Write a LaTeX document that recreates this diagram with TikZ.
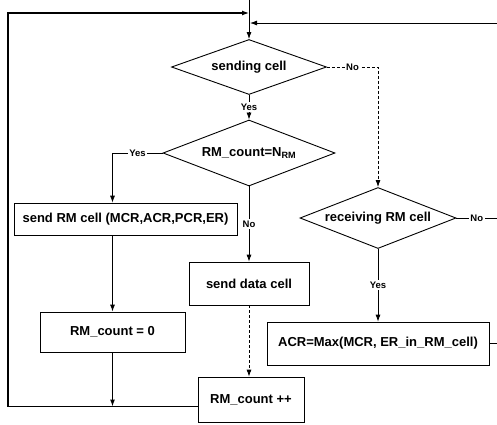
\documentclass[tikz,border=0pt]{standalone}
\usepackage{fontspec}
\setmainfont{Liberation Sans}
\usepackage{tikz}
\usetikzlibrary{arrows.meta,positioning,shapes.geometric}
\tikzstyle{decision} = [diamond, draw, line width=0.9pt, inner sep=0pt, font=\fontsize{13}{15}\selectfont\bfseries]
\tikzstyle{process} = [rectangle, draw, line width=0.7pt, inner sep=0pt, font=\fontsize{13}{15}\selectfont\bfseries]
\tikzstyle{arrow} = [line width=0.8pt,-{Latex[length=7pt,width=5pt]}]
\tikzstyle{lbl} = [fill=white, inner sep=1.5pt, font=\fontsize{9.5}{11}\selectfont\bfseries]

\begin{document}
\begin{tikzpicture}[x=1pt,y=-1pt]
    \useasboundingbox (0,0) rectangle (497,424);
    \node[decision, aspect=2.8, minimum width=155pt, minimum height=55pt] (send) at (249,67) {sending cell};
    \node[decision, aspect=2.6, minimum width=172pt, minimum height=66pt] (count) at (249,153) {RM\_count=N\textsubscript{RM}};
    \node[decision, aspect=2.56, minimum width=156pt, minimum height=61pt] (recv) at (378,218) {receiving RM cell};
    \node[process, minimum width=223pt, minimum height=32pt] (sendrm) at (125.5,219) {send RM cell (MCR,ACR,PCR,ER)};
    \node[process, minimum width=120pt, minimum height=43pt] (data) at (249,283.5) {send data cell};
    \node[process, minimum width=145pt, minimum height=40pt] (reset) at (112.5,332) {RM\_count = 0};
    \node[process, minimum width=106pt, minimum height=45pt] (incr) at (251,399.5) {RM\_count ++};
    \node[process, minimum width=222pt, minimum height=43pt] (acr) at (378,343.5) {ACR=Max(MCR, ER\_in\_RM\_cell)};

    \coordinate (top) at (249,0);
    \coordinate (inL) at (249,13);
    \coordinate (inR) at (250,23);
    \coordinate (cornerL) at (8,13);
    \coordinate (loopout) at ([yshift=-7pt]incr.west);
    \coordinate (fromR) at (497,23);
    \coordinate (noexit) at (497,218);
    \coordinate (acrexit) at (497,343.5);

    \draw[arrow] (top) -- (send.north);
    \draw[arrow, line width=1.2pt] (loopout) -| (cornerL) -- (inL);
    \draw[arrow] (fromR) -- (inR);
    \draw[arrow, densely dashed] (send.east) -- node[lbl]{No} (send.east -| recv.north) -- (recv.north);
    \draw[arrow] (send.south) -- node[lbl]{Yes} (count.north);
    \draw[arrow] (count.west) -- node[lbl]{Yes} (count.west -| reset.north) -- (reset.north |- sendrm.north);
    \draw[arrow] (count.south) -- node[lbl]{No} (data.north);
    \draw[arrow, line width=1.1pt] (reset.north |- sendrm.south) -- (reset.north);
    \draw[arrow, line width=1.1pt] (reset.south) -- (reset.south |- loopout);
    \draw[arrow, densely dashed] (data.south) -- (data.south |- incr.north);
    \draw[arrow] (recv.south) -- node[lbl]{Yes} (acr.north);
    \draw (recv.east) -- node[lbl]{No} (noexit);
    \draw (acr.east) -- (acrexit);
\end{tikzpicture}
\end{document}
